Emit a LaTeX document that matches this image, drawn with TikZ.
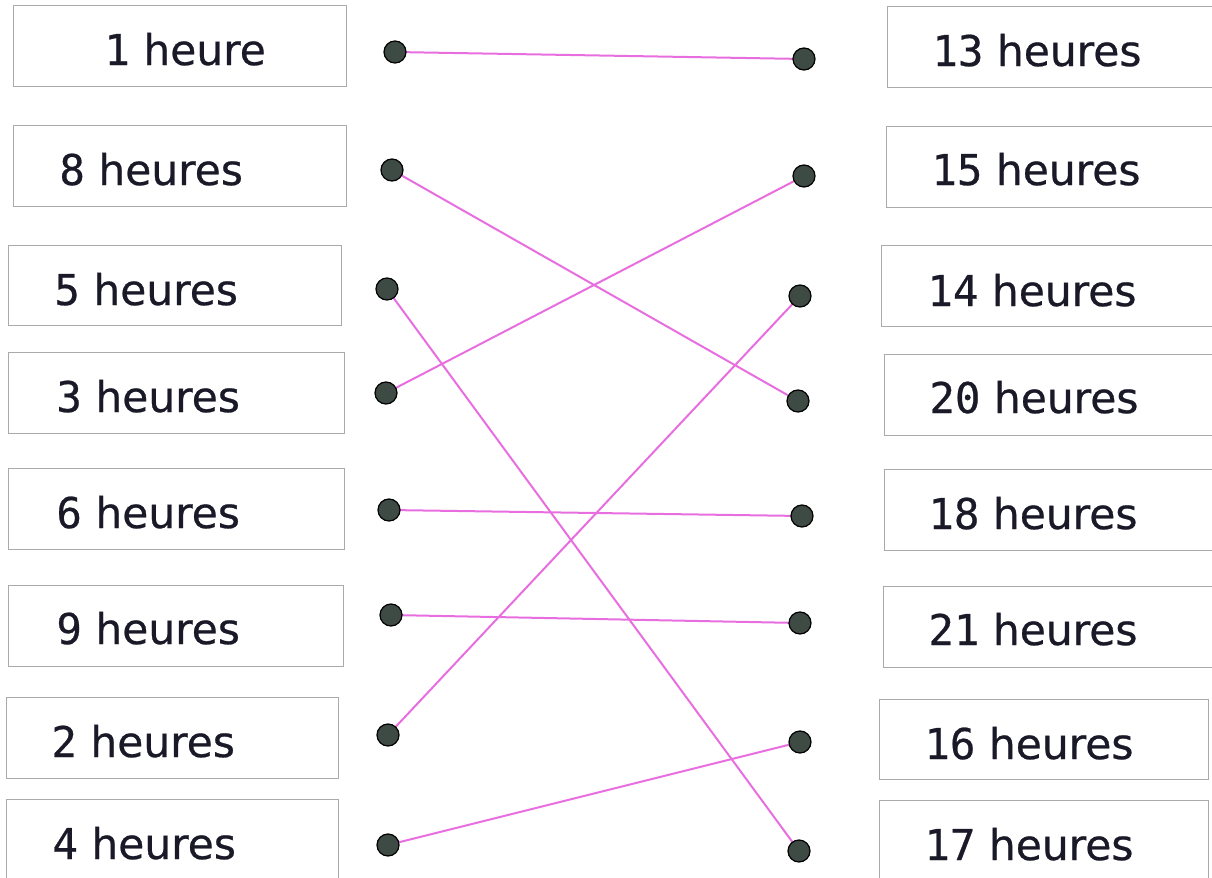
\documentclass[tikz,border=0pt]{standalone}
\usepackage{fontspec}
\setmainfont{DejaVu Sans}[FakeBold=0.6]
\newfontfamily\monodig{DejaVu Sans Mono}[FakeBold=0.6]
\usetikzlibrary{fit}
\definecolor{linkpink}{RGB}{232,110,224}
\definecolor{dotfill}{RGB}{62,74,68}
\definecolor{boxgray}{RGB}{170,170,170}
\definecolor{inkc}{RGB}{25,25,40}
\begin{document}
\begin{tikzpicture}[x=0.5pt,y=-0.5pt,
  hbox/.style={draw=boxgray,line width=0.45pt,inner sep=0pt,fill=none},
  lbl/.style={anchor=base west,inner sep=0pt,text=inkc,font=\fontsize{21.2pt}{25pt}\selectfont},
  dot/.style={circle,draw=black,line width=0.6pt,fill=dotfill,minimum size=11pt,inner sep=0pt},
  link/.style={draw=linkpink,line width=1pt}]
\useasboundingbox (0,0) rectangle (1212,878);
\clip (0,0) rectangle (1212,878);
% left boxes
\node[hbox,fit={(13,5)(346,86)}] (bL1) {};
\node[hbox,fit={(13,125)(346,206)}] (bL8) {};
\node[hbox,fit={(8,245)(341,325)}] (bL5) {};
\node[hbox,fit={(8,352)(344,433)}] (bL3) {};
\node[hbox,fit={(8,468)(344,549)}] (bL6) {};
\node[hbox,fit={(8,585)(343,666)}] (bL9) {};
\node[hbox,fit={(6,697)(338,778)}] (bL2) {};
\node[hbox,fit={(6,799)(338,890)}] (bL4) {};
% right boxes
\node[hbox,fit={(887,6)(1216,87)}] (bR13) {};
\node[hbox,fit={(886,126)(1216,207)}] (bR15) {};
\node[hbox,fit={(881,245)(1216,326)}] (bR14) {};
\node[hbox,fit={(884,354)(1216,435)}] (bR20) {};
\node[hbox,fit={(884,469)(1216,550)}] (bR18) {};
\node[hbox,fit={(883,586)(1216,667)}] (bR21) {};
\node[hbox,fit={(879,699)(1208,779)}] (bR16) {};
\node[hbox,fit={(879,800)(1208,890)}] (bR17) {};
% labels
\node[lbl] (tL1) at (104,65) {{\monodig 1} heure};
\node[lbl] (tL8) at (59,185) {{\monodig 8} heures};
\node[lbl] (tL5) at (54,305) {{\monodig 5} heures};
\node[lbl] (tL3) at (56,412) {{\monodig 3} heures};
\node[lbl] (tL6) at (56,528) {{\monodig 6} heures};
\node[lbl] (tL9) at (56,644) {{\monodig 9} heures};
\node[lbl] (tL2) at (51,757) {{\monodig 2} heures};
\node[lbl] (tL4) at (52,859) {{\monodig 4} heures};
\node[lbl] (tR13) at (932,66) {{\monodig 13} heures};
\node[lbl] (tR15) at (931,185) {{\monodig 15} heures};
\node[lbl] (tR14) at (927,306) {{\monodig 14} heures};
\node[lbl] (tR20) at (929,413) {{\monodig 20} heures};
\node[lbl] (tR18) at (928,529) {{\monodig 18} heures};
\node[lbl] (tR21) at (928,645) {{\monodig 21} heures};
\node[lbl] (tR16) at (924,759) {{\monodig 16} heures};
\node[lbl] (tR17) at (924,860) {{\monodig 17} heures};
% dot positions
\coordinate (cL1) at (395,52);
\coordinate (cL8) at (392,170);
\coordinate (cL5) at (387,289);
\coordinate (cL3) at (386,393);
\coordinate (cL6) at (389,510);
\coordinate (cL9) at (391,615);
\coordinate (cL2) at (388,735);
\coordinate (cL4) at (388,845);
\coordinate (cR13) at (804,59);
\coordinate (cR15) at (804,176);
\coordinate (cR14) at (800,296);
\coordinate (cR20) at (798,401);
\coordinate (cR18) at (802,516);
\coordinate (cR21) at (800,623);
\coordinate (cR16) at (800,742);
\coordinate (cR17) at (799,851);
% links
\draw[link] (cL1) -- (cR13);
\draw[link] (cL8) -- (cR20);
\draw[link] (cL5) -- (cR17);
\draw[link] (cL3) -- (cR15);
\draw[link] (cL6) -- (cR18);
\draw[link] (cL9) -- (cR21);
\draw[link] (cL2) -- (cR14);
\draw[link] (cL4) -- (cR16);
\foreach \n in {L1,L8,L5,L3,L6,L9,L2,L4,R13,R15,R14,R20,R18,R21,R16,R17}
  \node[dot] (d\n) at (c\n) {};
\end{tikzpicture}
\end{document}
